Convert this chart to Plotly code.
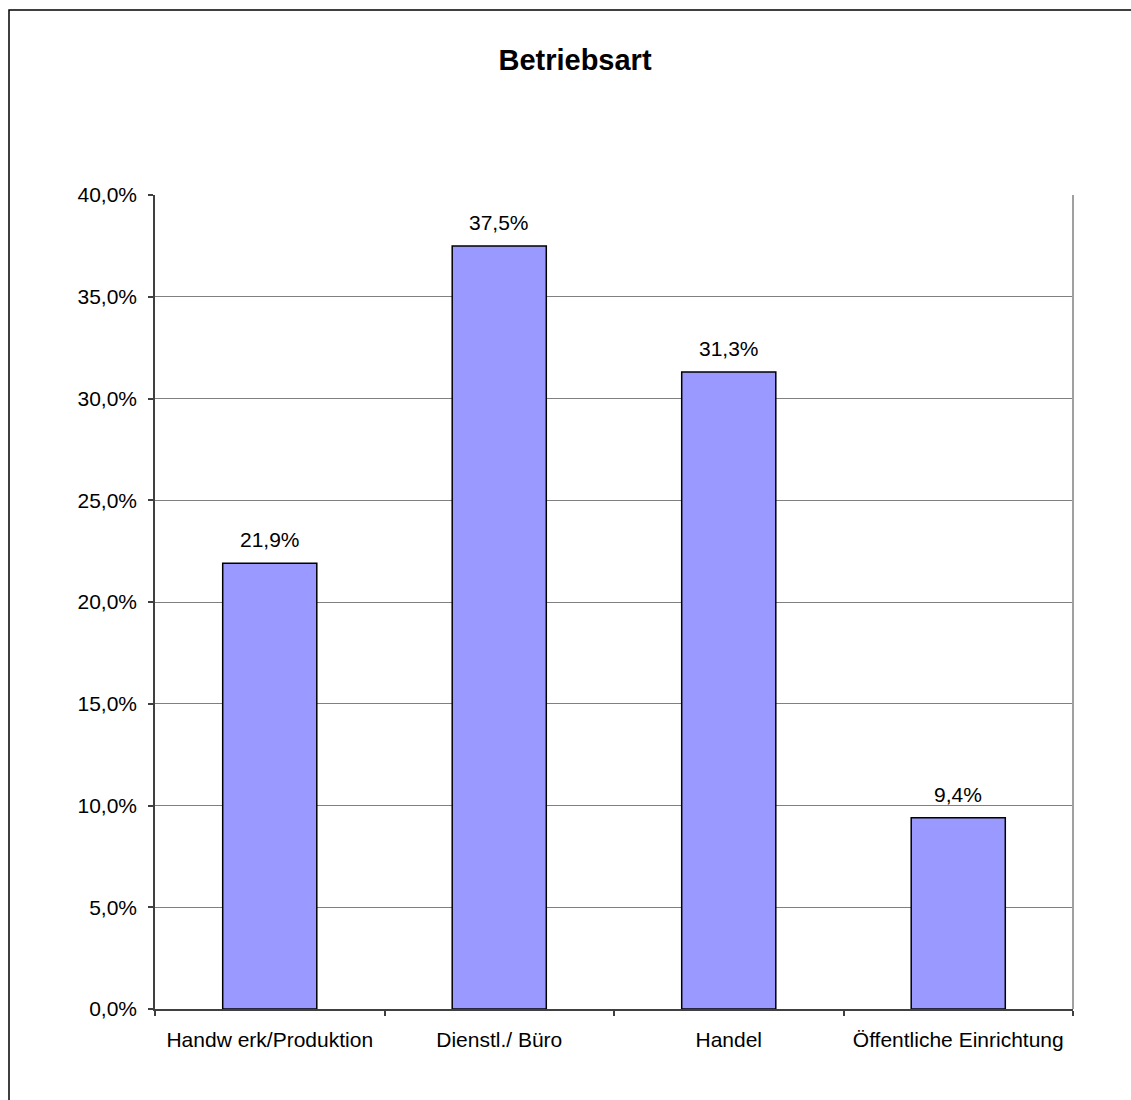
import plotly.graph_objects as go

# Betriebsart – Anteile je Kategorie
categories = ["Handw erk/Produktion", "Dienstl./ Büro", "Handel", "Öffentliche Einrichtung"]
shares = [21.9, 37.5, 31.3, 9.4]
label_texts = ["21,9%", "37,5%", "31,3%", "9,4%"]
y_ticks = [0, 5, 10, 15, 20, 25, 30, 35, 40]
y_tick_labels = ["0,0%", "5,0%", "10,0%", "15,0%", "20,0%", "25,0%", "30,0%", "35,0%", "40,0%"]

W, H = 1131, 1100
L, R, T, B = 155, 58, 195, 91
FONT = "Liberation Sans, Arial, sans-serif"
FS = 21

fig = go.Figure()
fig.add_trace(go.Bar(
    x=categories,
    y=shares,
    width=0.41,
    marker=dict(color="#9999FF", line=dict(color="#000000", width=1.5)),
    hoverinfo="skip",
))

# value labels above each bar
for cat, val, txt in zip(categories, shares, label_texts):
    fig.add_annotation(
        x=cat, y=val, text=txt, showarrow=False,
        xref="x", yref="y", yanchor="bottom", yshift=10,
        font=dict(family=FONT, size=FS, color="#000000"),
    )

pw = W - L - R
ph = H - T - B


def px_x(p):
    return (p - L) / pw


def px_y(p):
    return (H - B - p) / ph


# outer chart frame
fig.add_shape(
    type="rect", xref="paper", yref="paper",
    x0=px_x(9), x1=px_x(1141), y0=px_y(1112), y1=px_y(10),
    line=dict(color="#000000", width=1.5), fillcolor="rgba(0,0,0,0)",
    layer="below",
)
# right edge of plot area
fig.add_shape(
    type="line", xref="paper", yref="paper",
    x0=1, x1=1, y0=0, y1=1,
    line=dict(color="#A0A0A0", width=2),
)

fig.update_layout(
    width=W, height=H,
    margin=dict(l=L, r=R, t=T, b=B),
    paper_bgcolor="#FFFFFF",
    plot_bgcolor="#FFFFFF",
    showlegend=False,
    title=dict(
        text="<b>Betriebsart</b>",
        x=575 / W, xanchor="center",
        y=1 - 60 / H, yanchor="middle",
        font=dict(family=FONT, size=29, color="#000000"),
    ),
    bargap=0.59,
)

fig.update_xaxes(
    type="category",
    showgrid=False,
    showline=True, linecolor="#404040", linewidth=1.5,
    ticks="outside", tickson="boundaries", ticklen=5, tickcolor="#404040", tickwidth=1.5,
    tickfont=dict(family=FONT, size=FS, color="#000000"),
    ticklabelstandoff=11,
    range=[-0.5, 3.5],
    fixedrange=True,
)
fig.update_yaxes(
    range=[0, 40],
    tickvals=y_ticks, ticktext=y_tick_labels,
    showgrid=True, gridcolor="#808080", gridwidth=1,
    showline=True, linecolor="#404040", linewidth=1.5,
    ticks="outside", ticklen=5, tickcolor="#404040", tickwidth=1.5,
    tickfont=dict(family=FONT, size=FS, color="#000000"),
    ticklabelstandoff=7,
    zeroline=False,
    fixedrange=True,
)

fig.write_html("out.html", config={"displayModeBar": False})
